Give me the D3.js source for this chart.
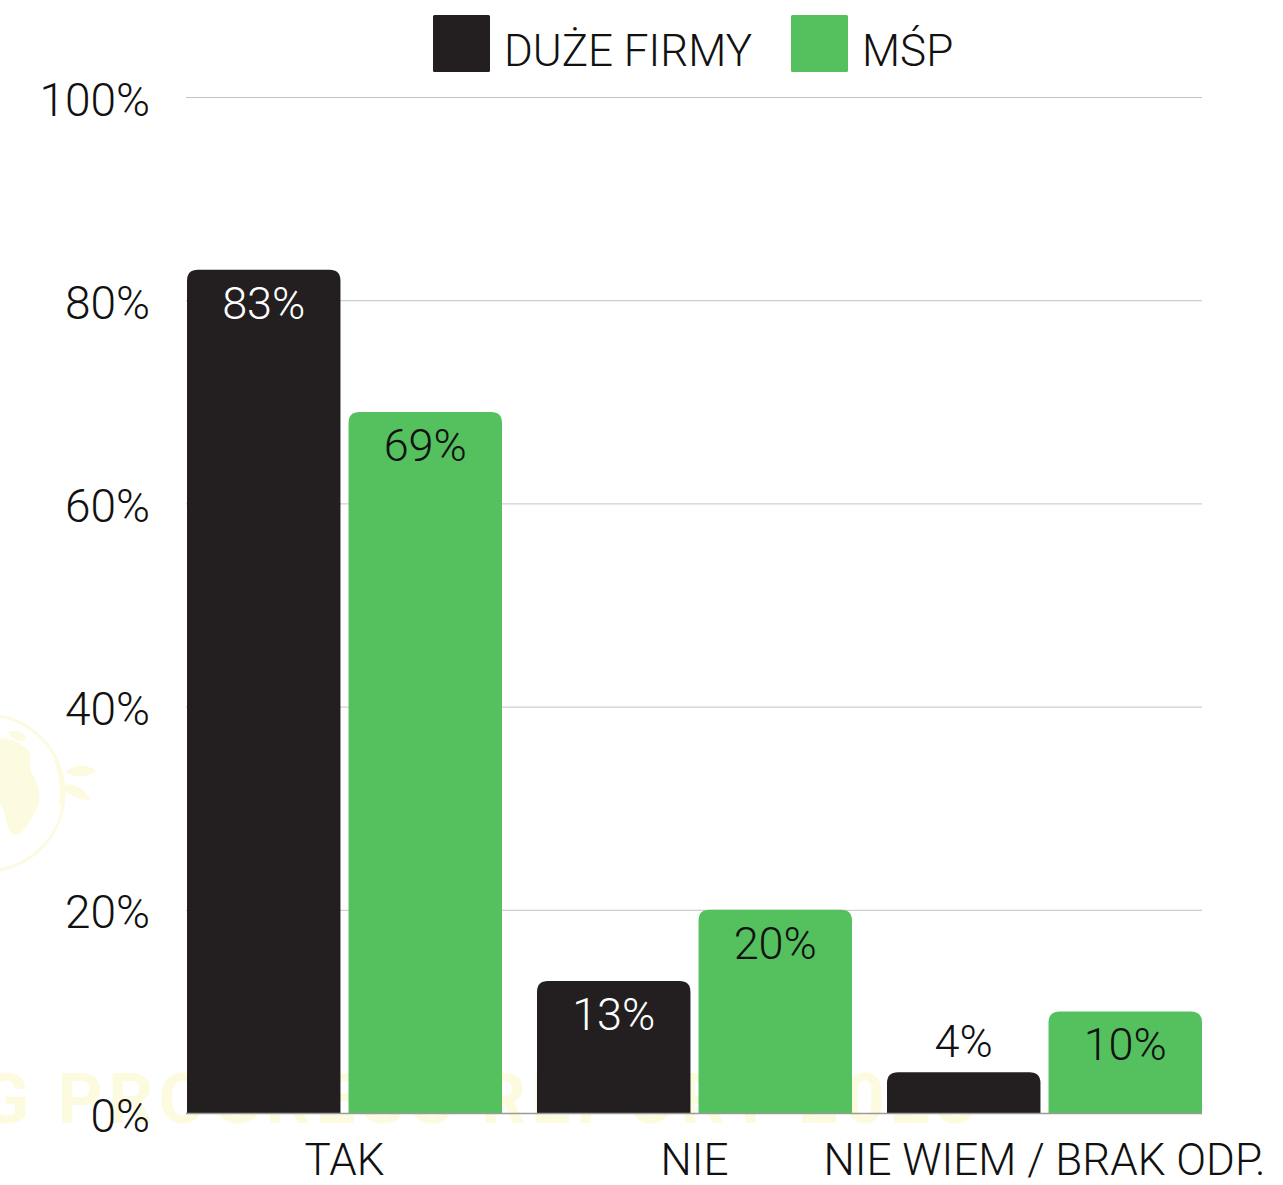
<!DOCTYPE html>
<html>
<head>
<meta charset="utf-8">
<script src="https://cdn.jsdelivr.net/npm/d3@7"></script>
<style>
  html, body { margin: 0; padding: 0; background: #ffffff; }
  svg { display: block; }
  text { font-family: Roboto, "Open Sans", sans-serif; font-weight: 300; }
</style>
</head>
<body>
<svg id="chart" width="1283" height="1185"></svg>
<script>
// Survey answers by company size
const categories = ["TAK", "NIE", "NIE WIEM / BRAK ODP."];
const seriesNames = ["DUŻE FIRMY", "MŚP"];
const largeFirms = [83, 13, 4];
const smeFirms = [69, 20, 10];
const yTicks = [0, 20, 40, 60, 80, 100];
const seriesColors = ["#231f20", "#54c05e"];
const labelColors = ["#ffffff", "#111111"];

const rows = categories.map((c, i) => ({
  category: c,
  values: [
    { series: seriesNames[0], value: largeFirms[i], idx: 0 },
    { series: seriesNames[1], value: smeFirms[i], idx: 1 }
  ]
}));

const svg = d3.select("#chart");
const plot = { left: 187, right: 1202, top: 97, bottom: 1113 };

const y = d3.scaleLinear().domain([0, 100]).range([plot.bottom, plot.top]);
const x0 = d3.scaleBand().domain(categories).range([plot.left, plot.right])
  .paddingInner(0.1).paddingOuter(0);
const x1 = d3.scaleBand().domain(seriesNames).range([0, x0.bandwidth()])
  .paddingInner(0.05);

// Faint background emblem: globe with leaves and report title
const markColor = "#fcfadf";
const mark = svg.append("g").attr("fill", markColor).attr("stroke", "none");
mark.append("circle").attr("cx", -14).attr("cy", 793).attr("r", 78)
  .attr("fill", "none").attr("stroke", markColor).attr("stroke-width", 3);
mark.append("path").attr("d",
  "M-20,740 C0,734 18,740 28,750 C34,758 26,764 32,774 C40,786 42,800 36,810 " +
  "C30,820 26,832 16,835 C10,836 7,826 5,815 C3,802 -6,794 -20,792 Z");
mark.append("path").attr("d", "M8,732 C18,729 26,734 26,740 C20,743 12,740 8,732 Z");
mark.append("path").attr("d", "M66,772 C74,764 88,764 96,771 C86,778 74,778 66,772 Z");
mark.append("path").attr("d", "M62,786 C70,782 84,786 90,800 C78,800 68,796 62,786 Z");
mark.append("path").attr("d", "M56,760 C60,775 64,790 60,805").attr("fill", "none")
  .attr("stroke", markColor).attr("stroke-width", 3);

svg.append("text")
  .attr("x", -112).attr("y", 1123)
  .attr("textLength", 1088).attr("lengthAdjust", "spacing")
  .style("font-weight", 700).style("font-size", "70px")
  .attr("fill", markColor)
  .text("ESG PROGRESS REPORT 2023");

// Horizontal gridlines
svg.append("g").selectAll("line")
  .data(yTicks.filter(t => t > 0))
  .join("line")
  .attr("x1", plot.left - 1).attr("x2", plot.right)
  .attr("y1", d => y(d) + 0.5).attr("y2", d => y(d) + 0.5)
  .attr("stroke", "#c4c4c4").attr("stroke-width", 1);

// Y axis labels
const yAxis = d3.axisLeft(y).tickValues(yTicks).tickSize(0).tickPadding(0)
  .tickFormat(d => d + "%");
const yg = svg.append("g").attr("transform", "translate(150,0)").call(yAxis);
yg.select(".domain").remove();
yg.selectAll("text")
  .attr("x", 0).attr("dy", null).attr("y", 18)
  .attr("text-anchor", "end")
  .style("font-family", "Roboto, sans-serif").style("font-weight", 300)
  .style("font-size", "46px").attr("fill", "#111");

// Bars with rounded top corners
function topRounded(x, yTop, w, h, r) {
  r = Math.min(r, h, w / 2);
  return `M${x},${yTop + h} V${yTop + r} Q${x},${yTop} ${x + r},${yTop} ` +
         `H${x + w - r} Q${x + w},${yTop} ${x + w},${yTop + r} V${yTop + h} Z`;
}

const groups = svg.append("g").selectAll("g")
  .data(rows).join("g")
  .attr("transform", d => `translate(${x0(d.category)},0)`);

groups.selectAll("path")
  .data(d => d.values).join("path")
  .attr("d", d => topRounded(x1(d.series), y(d.value), x1.bandwidth(), y(0) - y(d.value), 11))
  .attr("fill", d => seriesColors[d.idx]);

// Value labels: inside the bar, or just above it when the bar is short
groups.selectAll("text.value")
  .data(d => d.values).join("text")
  .attr("class", "value")
  .attr("x", d => x1(d.series) + x1.bandwidth() / 2)
  .attr("y", d => (y(0) - y(d.value)) > 70 ? y(d.value) + 49 : y(d.value) - 15)
  .attr("text-anchor", "middle")
  .style("font-size", "45px")
  .attr("fill", d => (y(0) - y(d.value)) > 70 ? labelColors[d.idx] : "#111")
  .text(d => d.value + "%");

// Baseline
svg.append("line")
  .attr("x1", plot.left - 1).attr("x2", plot.right)
  .attr("y1", y(0) + 0.5).attr("y2", y(0) + 0.5)
  .attr("stroke", "#9a9a9a").attr("stroke-width", 1.5);

// Category axis
const xAxis = d3.axisBottom(x0).tickSize(0).tickPadding(0);
const xg = svg.append("g").attr("transform", `translate(0,${plot.bottom})`).call(xAxis);
xg.select(".domain").remove();
xg.selectAll("text")
  .attr("y", 62).attr("dy", null)
  .style("font-family", "Roboto, sans-serif").style("font-weight", 300)
  .style("font-size", "44px").attr("fill", "#111");

// Legend
const legendItems = [
  { name: seriesNames[0], color: seriesColors[0], x: 433 },
  { name: seriesNames[1], color: seriesColors[1], x: 791 }
];
const legend = svg.append("g").selectAll("g").data(legendItems).join("g")
  .attr("transform", d => `translate(${d.x},15)`);
legend.append("rect").attr("width", 57).attr("height", 57).attr("rx", 1.5)
  .attr("fill", d => d.color);
legend.append("text").attr("x", 71).attr("y", 51)
  .style("font-size", "44px").attr("fill", "#111")
  .text(d => d.name);
</script>
</body>
</html>
